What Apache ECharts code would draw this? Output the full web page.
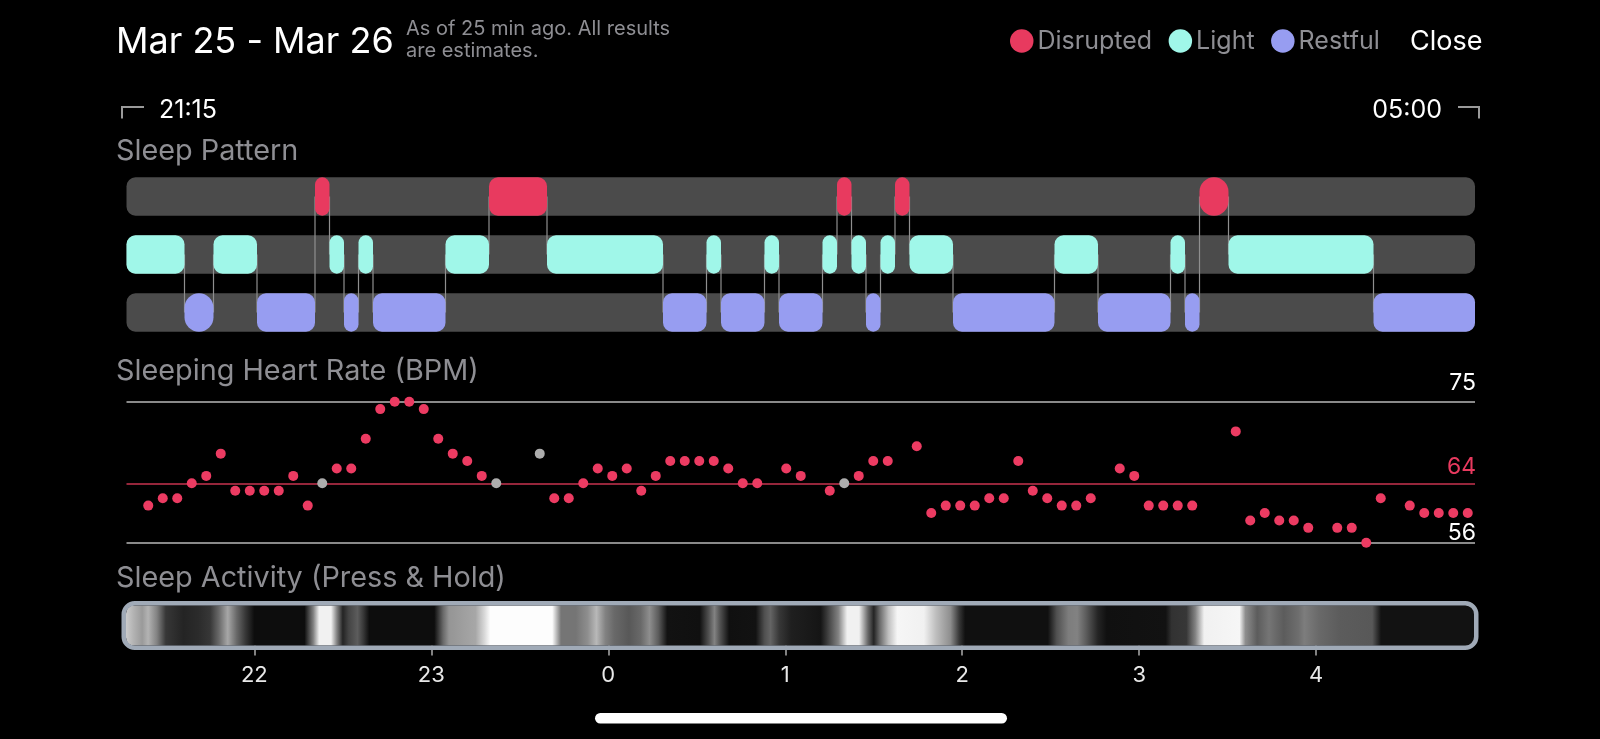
<!DOCTYPE html>
<html>
<head>
<meta charset="utf-8">
<script src="https://cdn.jsdelivr.net/npm/echarts@6/dist/echarts.min.js"></script>
<style>
html,body{margin:0;padding:0;background:#000;}
#chart{width:1600px;height:739px;}
</style>
</head>
<body>
<div id="chart"></div>
<script>
// ---------------- DATA ----------------
const nightStart = '21:15';
const nightEnd = '05:00';

const stageNames = ['Disrupted', 'Light', 'Restful'];

const disruptedPeriods = [
  ['22:20','22:25'], ['23:20','23:40'], ['01:20','01:25'], ['01:40','01:45'], ['03:25','03:35']
];
const lightPeriods = [
  ['21:15','21:35'], ['21:45','22:00'], ['22:25','22:30'], ['22:35','22:40'], ['23:05','23:20'],
  ['23:40','00:20'], ['00:35','00:40'], ['00:55','01:00'], ['01:15','01:20'], ['01:25','01:30'],
  ['01:35','01:40'], ['01:45','02:00'], ['02:35','02:50'], ['03:15','03:20'], ['03:35','04:25']
];
const restfulPeriods = [
  ['21:35','21:45'], ['22:00','22:20'], ['22:30','22:35'], ['22:40','23:05'], ['00:20','00:35'],
  ['00:40','00:55'], ['01:00','01:15'], ['01:30','01:35'], ['02:00','02:35'], ['02:50','03:15'],
  ['03:20','03:25'], ['04:25','05:00']
];

const hrBins = [
  '21:15','21:20','21:25','21:30','21:35','21:40','21:45','21:50','21:55',
  '22:00','22:05','22:10','22:15','22:20','22:25','22:30','22:35','22:40','22:45','22:50','22:55',
  '23:00','23:05','23:10','23:15','23:20','23:25','23:30','23:35','23:40','23:45','23:50','23:55',
  '00:00','00:05','00:10','00:15','00:20','00:25','00:30','00:35','00:40','00:45','00:50','00:55',
  '01:00','01:05','01:10','01:15','01:20','01:25','01:30','01:35','01:40','01:45','01:50','01:55',
  '02:00','02:05','02:10','02:15','02:20','02:25','02:30','02:35','02:40','02:45','02:50','02:55',
  '03:00','03:05','03:10','03:15','03:20','03:25','03:30','03:35','03:40','03:45','03:50','03:55',
  '04:00','04:05','04:10','04:15','04:20','04:25','04:30','04:35','04:40','04:45','04:50','04:55'
];
const hrValues = [
  null,61,62,62,64,65,68,63,63,
  63,63,65,61,64,66,66,70,74,75,75,74,
  70,68,67,65,64,null,null,68,62,62,64,66,
  65,66,63,65,67,67,67,67,66,64,64,null,
  66,65,null,63,64,65,67,67,null,69,60,61,
  61,61,62,62,67,63,62,61,61,62,null,66,
  65,61,61,61,61,null,null,71,59,60,59,59,
  58,null,58,58,56,62,null,61,60,60,60,60
];
const hrAwakeBins = ['22:20','23:20','23:35','01:20'];
const hrLines = [75, 64, 56];
const hrLineLabels = ['75', '64', '56'];

const activityStart = '21:16:30';
const activityEnd = '04:53:30';
const activityTimes = [
  '21:16','21:19','21:22','21:24','21:27','21:30','21:36','21:41','21:45','21:48','21:51','21:54','21:57',
  '22:00','22:17','22:20','22:22','22:26','22:28','22:30','22:32','22:35','22:37','22:39',
  '23:01','23:04','23:06','23:15','23:18','23:20','23:41','23:44','23:49','23:53','23:56','23:59',
  '00:02','00:07','00:11','00:14','00:17','00:20','00:31','00:34','00:36','00:38','00:41','00:50','00:53','00:55','00:58',
  '01:02','01:12','01:14','01:18','01:21','01:25','01:28','01:30','01:32','01:35','01:38','01:47','01:51','01:56','01:59',
  '02:01','02:29','02:32','02:36','02:39','02:42','02:46','02:49',
  '03:09','03:11','03:16','03:19','03:22','03:34','03:36','03:40','03:44','03:49','03:54','03:56',
  '04:01','04:08','04:19','04:22','04:53'
];
const activityLevels = [
  0.8,0.7,0.6,0.7,0.5,0.2,0.12,0.15,0.2,0.4,0.65,0.4,0.2,
  0.03,0.03,0.5,0.95,0.95,0.5,0.12,0.25,0.35,0.2,0.03,
  0.03,0.4,0.58,0.65,0.85,1.0,1.0,0.45,0.45,0.55,0.72,0.5,
  0.4,0.33,0.4,0.55,0.35,0.05,0.04,0.3,0.5,0.3,0.04,0.05,0.3,0.38,0.2,
  0.1,0.06,0.2,0.5,0.95,0.95,0.4,0.12,0.4,0.75,0.97,0.95,0.75,0.55,0.2,
  0.04,0.04,0.3,0.48,0.5,0.35,0.12,0.04,
  0.05,0.18,0.2,0.5,0.95,0.97,0.55,0.35,0.45,0.35,0.42,0.48,
  0.4,0.35,0.33,0.05,0.05
];
const activityTickTimes = ['22:00','23:00','00:00','01:00','02:00','03:00','04:00'];
const activityTickLabels = ['22','23','0','1','2','3','4'];

// ---------------- HELPERS ----------------
const FONT = 'Inter, "Noto Sans", sans-serif';
const stageColors = { Disrupted: '#e83a5f', Light: '#a0f7e9', Restful: '#979df1' };
const stageRow = { Disrupted: 2, Light: 1, Restful: 0 };

function toMin(t) {
  const p = t.split(':').map(Number);
  let h = p[0];
  if (h < 12) h += 24;
  return h * 60 + p[1] + (p[2] || 0) / 60 - (21 * 60 + 15);
}
function grayOf(level) {
  const v = Math.round(6 + level * 247);
  return 'rgb(' + v + ',' + v + ',' + v + ')';
}

const periodsByStage = { Disrupted: disruptedPeriods, Light: lightPeriods, Restful: restfulPeriods };

// transitions between consecutive periods -> connector lines
const allPeriods = [];
stageNames.forEach(n => periodsByStage[n].forEach(p => allPeriods.push({ s: toMin(p[0]), e: toMin(p[1]), row: stageRow[n] })));
allPeriods.sort((a, b) => a.s - b.s);
const connectorData = [];
for (let i = 1; i < allPeriods.length; i++) {
  connectorData.push([allPeriods[i].s, allPeriods[i - 1].row, allPeriods[i].row]);
}

const ROW_H = 0.662;

function stageRender(params, api) {
  const s = api.value(0), e = api.value(1), row = api.value(2);
  const p0 = api.coord([s, row]);
  const p1 = api.coord([e, row]);
  const h = api.size([0, ROW_H])[1];
  const w = p1[0] - p0[0];
  const r = w <= 31 ? w / 2 : 9;
  return {
    type: 'rect',
    shape: { x: p0[0], y: p0[1] - h / 2, width: w, height: h, r: r },
    style: { fill: api.visual('color') }
  };
}

const stageSeries = stageNames.map(n => ({
  name: n,
  type: 'custom',
  xAxisIndex: 0, yAxisIndex: 0,
  z: 4,
  silent: true,
  itemStyle: { color: stageColors[n] },
  renderItem: stageRender,
  data: periodsByStage[n].map(p => [toMin(p[0]), toMin(p[1]), stageRow[n]])
}));

const trackSeries = {
  type: 'custom', xAxisIndex: 0, yAxisIndex: 0, z: 2, silent: true,
  renderItem: function (params, api) {
    const p0 = api.coord([api.value(0), api.value(2)]);
    const p1 = api.coord([api.value(1), api.value(2)]);
    const h = api.size([0, ROW_H])[1];
    return { type: 'rect', shape: { x: p0[0], y: p0[1] - h / 2, width: p1[0] - p0[0], height: h, r: 9 }, style: { fill: '#4b4b4b' } };
  },
  data: stageNames.map(n => [toMin(nightStart), toMin(nightEnd), stageRow[n]])
};

const connectorSeries = {
  type: 'custom', xAxisIndex: 0, yAxisIndex: 0, z: 3, silent: true,
  renderItem: function (params, api) {
    const a = api.coord([api.value(0), api.value(1)]);
    const b = api.coord([api.value(0), api.value(2)]);
    return { type: 'line', shape: { x1: a[0], y1: a[1], x2: b[0], y2: b[1] }, style: { stroke: '#8f8f8f', lineWidth: 1.2 } };
  },
  data: connectorData
};

const hrRed = hrValues.map((v, i) => (v === null || hrAwakeBins.indexOf(hrBins[i]) >= 0) ? '-' : v);
const hrGray = hrValues.map((v, i) => (v !== null && hrAwakeBins.indexOf(hrBins[i]) >= 0) ? v : '-');

const lineStyles = [
  { color: '#8a8a8a', width: 2 },
  { color: '#c7334f', width: 1.6 },
  { color: '#8a8a8a', width: 2 }
];
const lineLabelColors = ['#ffffff', '#e83a5f', '#ffffff'];
const lineLabelDist = [[-1, 7], [-1, 5], [-1, -2]];

const hrSeriesRed = {
  name: 'HR', type: 'scatter', xAxisIndex: 1, yAxisIndex: 1, symbolSize: 10, z: 4, silent: true,
  itemStyle: { color: '#ec3b62', opacity: 1 },
  data: hrRed,
  markLine: {
    silent: true, symbol: 'none', animation: false, z: 1,
    data: hrLines.map((v, i) => ({
      yAxis: v,
      lineStyle: Object.assign({ type: 'solid' }, lineStyles[i]),
      label: {
        show: true, position: 'insideEndTop', formatter: hrLineLabels[i],
        color: lineLabelColors[i], fontSize: 23, fontFamily: FONT, distance: lineLabelDist[i]
      }
    }))
  }
};
const hrSeriesGray = {
  name: 'HRAwake', type: 'scatter', xAxisIndex: 1, yAxisIndex: 1, symbolSize: 10, z: 4, silent: true,
  itemStyle: { color: '#adadad', opacity: 1 },
  data: hrGray
};

const actMin = toMin(activityStart), actMax = toMin(activityEnd);
const activitySeries = {
  type: 'custom', xAxisIndex: 2, yAxisIndex: 2, z: 4, silent: true,
  renderItem: function (params, api) {
    const a = api.coord([actMin, 1]);
    const b = api.coord([actMax, 0]);
    const x0 = a[0], y0 = a[1], x1 = b[0], y1 = b[1];
    const stops = activityTimes.map((t, i) => {
      let off = (api.coord([toMin(t), 0])[0] - x0) / (x1 - x0);
      off = Math.max(0, Math.min(1, off));
      return { offset: off, color: grayOf(activityLevels[i]) };
    });
    return {
      type: 'group',
      children: [
        { type: 'rect', shape: { x: x0, y: y0, width: x1 - x0, height: y1 - y0, r: 8 },
          style: { fill: new echarts.graphic.LinearGradient(0, 0, 1, 0, stops) } },
        { type: 'rect', shape: { x: x0 - 2.25, y: y0 - 2.25, width: x1 - x0 + 4.5, height: y1 - y0 + 4.5, r: 11 },
          style: { fill: 'none', stroke: '#a0aab7', lineWidth: 4.5 } }
      ]
    };
  },
  data: [[actMin, actMax]]
};

const tickVals = activityTickTimes.map(toMin);

function txt(text, x, y, size, color, align) {
  return {
    type: 'text', x: 0, y: 0, silent: true,
    style: { text: text, x: x, y: y, fill: color, fontSize: size, fontFamily: FONT,
      align: align || 'left', verticalAlign: 'middle', textAlign: align || 'left', textVerticalAlign: 'middle' }
  };
}

const option = {
  backgroundColor: '#000000',
  animation: false,
  legend: {
    data: stageNames,
    left: 1005, top: 23.5,
    icon: 'circle', itemWidth: 23.5, itemHeight: 23.5, itemGap: 16.5,
    textStyle: { color: '#8e8e93', fontSize: 25, fontFamily: FONT, padding: [0, 0, 0, -1] },
    selectedMode: false
  },
  grid: [
    { left: 126.5, right: 125, top: 177.3, height: 154.4 },
    { left: 126.5, right: 125, top: 401.7, height: 141 },
    { left: 126, right: 126, top: 605.5, height: 40 }
  ],
  xAxis: [
    { gridIndex: 0, type: 'value', min: toMin(nightStart), max: toMin(nightEnd), show: false },
    { gridIndex: 1, type: 'category', data: hrBins, boundaryGap: true, show: false },
    { gridIndex: 2, type: 'value', min: actMin, max: actMax, offset: 4.5,
      axisLine: { show: false },
      axisTick: { show: true, customValues: tickVals, length: 10, lineStyle: { color: '#a3a3a3', width: 1.6 } },
      axisLabel: { show: true, customValues: tickVals, margin: 14, color: '#e8e8e8', fontSize: 22, fontFamily: FONT,
        formatter: function (v) {
          const i = tickVals.findIndex(t => Math.abs(t - v) < 0.01);
          return i >= 0 ? activityTickLabels[i] : '';
        } },
      splitLine: { show: false } }
  ],
  yAxis: [
    { gridIndex: 0, type: 'value', min: -ROW_H / 2, max: 2 + ROW_H / 2, show: false },
    { gridIndex: 1, type: 'value', min: 56, max: 75, show: false },
    { gridIndex: 2, type: 'value', min: 0, max: 1, show: false }
  ],
  graphic: [
    txt('Mar 25 - Mar 26', 116, 42, 36, '#ffffff'),
    txt('As of 25 min ago. All results', 406, 29, 20, '#8e8e93'),
    txt('are estimates.', 406, 51, 20, '#8e8e93'),
    txt('Close', 1410, 41.4, 27, '#ffffff'),
    { type: 'polyline', silent: true, shape: { points: [[122, 118.5], [122, 107], [144, 107]] }, style: { stroke: '#9a9a9a', lineWidth: 2, fill: 'none' } },
    txt('21:15', 159, 110.5, 25, '#ffffff'),
    txt('05:00', 1442, 110.5, 25, '#ffffff', 'right'),
    { type: 'polyline', silent: true, shape: { points: [[1458, 107], [1479, 107], [1479, 118.5]] }, style: { stroke: '#9a9a9a', lineWidth: 2, fill: 'none' } },
    txt('Sleep Pattern', 116, 151.7, 28.8, '#8e8e93'),
    txt('Sleeping Heart Rate (BPM)', 116, 371.7, 28.8, '#8e8e93'),
    txt('Sleep Activity (Press & Hold)', 116, 578, 28.8, '#8e8e93'),
    { type: 'rect', silent: true, shape: { x: 595, y: 713, width: 412, height: 10.5, r: 5.25 }, style: { fill: '#ffffff' } }
  ],
  series: [trackSeries, connectorSeries].concat(stageSeries).concat([hrSeriesRed, hrSeriesGray, activitySeries])
};

const chart = echarts.init(document.getElementById('chart'), null, { renderer: 'canvas' });
chart.setOption(option);
</script>
</body>
</html>
